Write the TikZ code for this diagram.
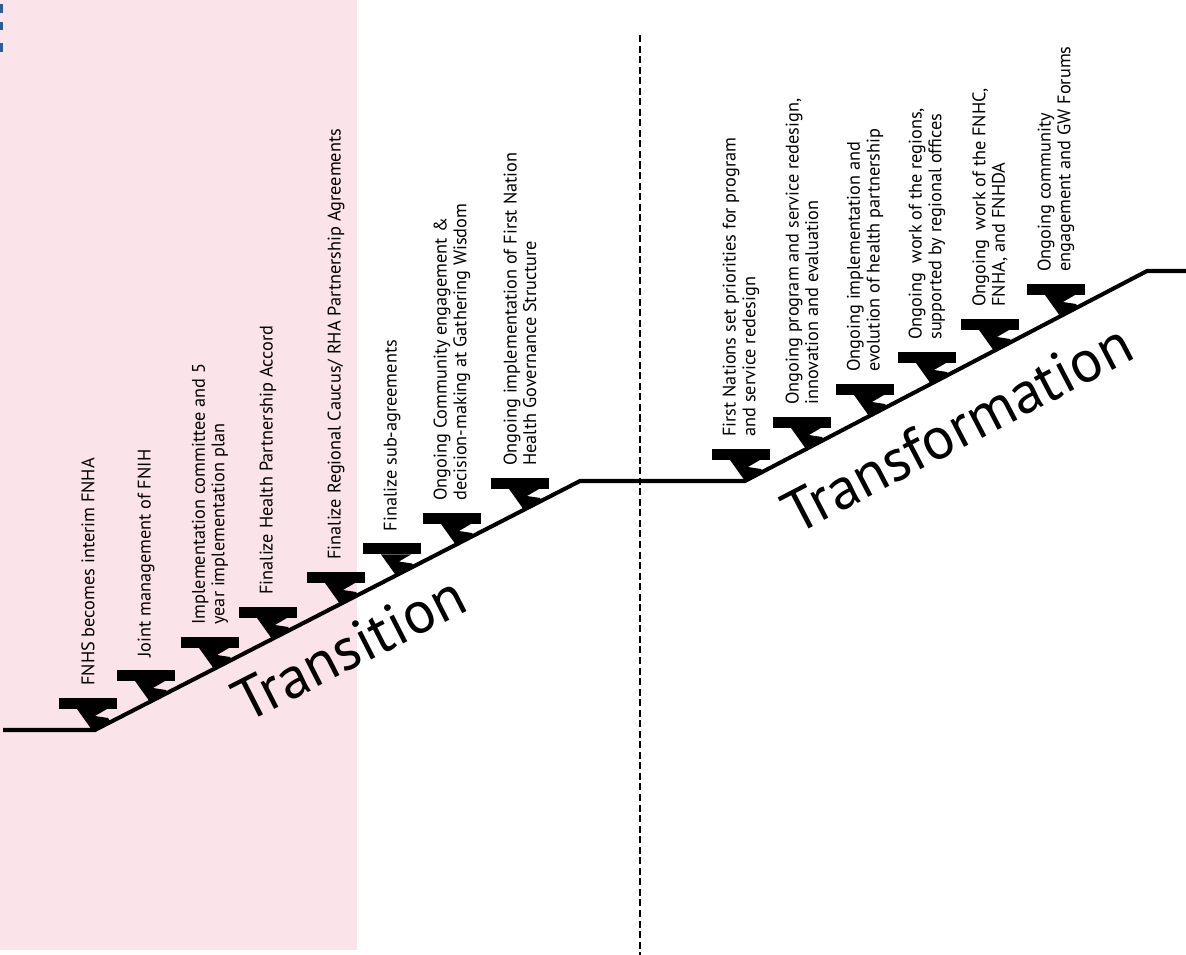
\documentclass[tikz,border=0pt]{standalone}
\usepackage{fontspec}
\setmainfont{PT Sans}
\usepackage{tikz}
\definecolor{pinkbg}{RGB}{251,228,233}
\definecolor{edgeblue}{RGB}{46,92,154}

\tikzset{
  milestone/.pic={
    \fill (-33,-32) rectangle (25,-21);
    \fill (-15,-21) -- (15,-21) -- (3,-14) -- (16,-12) -- (18,-9) -- (0,0) -- cycle;
  },
  steplabel/.style={rotate=90, anchor=west, inner sep=0pt, align=left,
    font=\fontsize{10.4}{11.2}\selectfont},
  phase/.style={inner sep=0pt, font=\fontsize{34}{40}\selectfont}
}

\begin{document}
\begin{tikzpicture}[x=0.02cm,y=-0.02cm]
        \useasboundingbox (0,0) rectangle (1186,955);
        \fill[pinkbg] (0,0) rectangle (357,950);
        \fill[edgeblue] (0,4) rectangle (3,13);
        \fill[edgeblue] (0,22) rectangle (3,30);
        \fill[edgeblue] (0,43) rectangle (3,52);
        \draw[dash pattern=on 4pt off 2pt, line width=0.9pt] (640,35) -- (640,955);
        % the path
        \coordinate(A) at (3,730);
        \coordinate(B) at (95,730);
        \coordinate(C) at (580,481);
        \coordinate(D) at (745,481);
        \coordinate(E) at (1147,271);
        \coordinate(F) at (1186,271);
        \draw[line width=2.3pt](A)--(B)--(C)--(D)--(E)--(F);
        % milestones
        \coordinate(m1) at (92,730);
        \coordinate(m2) at (150,702);
        \coordinate(m3) at (214,669);
        \coordinate(m4) at (272,639);
        \coordinate(m5) at (340,604);
        \coordinate(m6) at (396,575.5);
        \coordinate(m7) at (456,545);
        \coordinate(m8) at (524,510);
        \coordinate(m9) at (745,481);
        \coordinate(m10) at (806,449);
        \coordinate(m11) at (869,416);
        \coordinate(m12) at (931,384);
        \coordinate(m13) at (994,351);
        \coordinate(m14) at (1060,316);
        \foreach \m in {1,...,14} \pic at (m\m) {milestone};
        \node[steplabel](l1) at ([shift={(-4,-44)}]m1) {FNHS becomes interim FNHA};
        \node[steplabel](l2) at ([shift={(-4,-44)}]m2) {Joint management of FNIH};
        \node[steplabel](l3) at ([shift={(-4,-44)}]m3) {Implementation committee and 5\\year implementation plan};
        \node[steplabel](l4) at ([shift={(-4,-44)}]m4) {Finalize Health Partnership Accord};
        \node[steplabel](l5) at ([shift={(-4,-44)}]m5) {Finalize Regional Caucus/ RHA Partnership Agreements};
        \node[steplabel](l6) at ([shift={(-4,-44)}]m6) {Finalize sub-agreements};
        \node[steplabel](l7) at ([shift={(-4,-44)}]m7) {Ongoing Community engagement \&\\decision-making at Gathering Wisdom};
        \node[steplabel](l8) at ([shift={(-4,-44)}]m8) {Ongoing implementation of First Nation\\Health Governance Structure};
        \node[steplabel](l9) at ([shift={(-4,-44)}]m9) {First Nations set priorities for program\\and service redesign};
        \node[steplabel](l10) at ([shift={(-4,-44)}]m10) {Ongoing program and service redesign,\\innovation and evaluation};
        \node[steplabel](l11) at ([shift={(-4,-44)}]m11) {Ongoing implementation and\\evolution of health partnership};
        \node[steplabel](l12) at ([shift={(-4,-44)}]m12) {Ongoing\ \ work of the regions,\\supported by regional offices};
        \node[steplabel](l13) at ([shift={(-4,-44)}]m13) {Ongoing\ \ work of the FNHC,\\FNHA, and FNHDA};
        \node[steplabel](l14) at ([shift={(-4,-44)}]m14) {Ongoing community\\engagement and GW Forums};
        % phases
        \node[phase,rotate=27](transition) at (349,648) {Transition};
        \node[phase,rotate=27.5](transformation) at (957,428) {Transformation};
    \end{tikzpicture}
\end{document}
